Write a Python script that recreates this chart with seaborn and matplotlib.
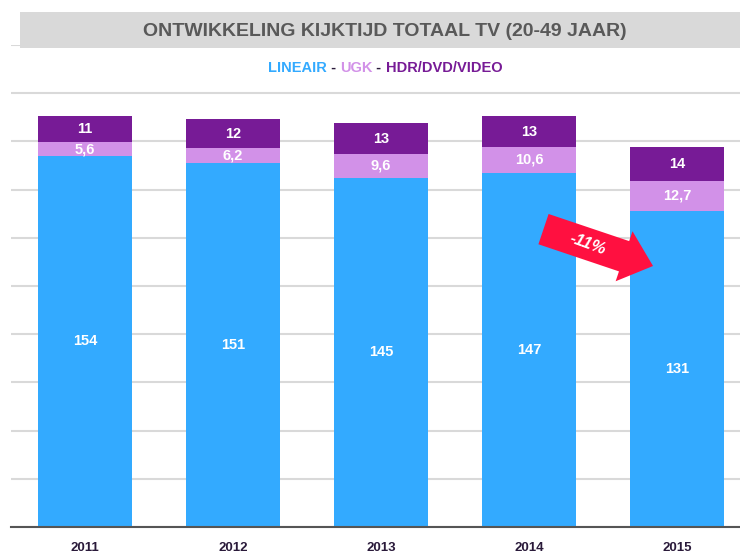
import numpy as np
import pandas as pd
import seaborn as sns
import matplotlib.pyplot as plt
from matplotlib.patches import Rectangle

years = ["2011", "2012", "2013", "2014", "2015"]
lineair = [154, 151, 145, 147, 131]
ugk = [5.6, 6.2, 9.6, 10.6, 12.7]
hdr = [11, 12, 13, 13, 14]

c_lin = "#33aaff"
c_ugk = "#d291e8"
c_hdr = "#771b96"

df = pd.DataFrame({"year": years, "lineair": lineair, "ugk": ugk, "hdr": hdr})
df["lin_ugk"] = df["lineair"] + df["ugk"]
df["total"] = df["lin_ugk"] + df["hdr"]

sns.set_theme(style="white")
plt.rcParams["font.family"] = ["Liberation Sans", "DejaVu Sans"]

fig = plt.figure(figsize=(7.4, 5.53), dpi=100)
ax = fig.add_axes([11 / 740, 1 - 527 / 553, 740 / 740, (527 - 45) / 553])

# stacked bars: draw cumulative totals back to front
w = 0.63
sns.barplot(data=df, x="year", y="total", color=c_hdr, width=w, saturation=1, linewidth=0, ax=ax, zorder=2)
sns.barplot(data=df, x="year", y="lin_ugk", color=c_ugk, width=w, saturation=1, linewidth=0, ax=ax, zorder=3)
sns.barplot(data=df, x="year", y="lineair", color=c_lin, width=w, saturation=1, linewidth=0, ax=ax, zorder=4)

for i, r in df.iterrows():
    lab = dict(ha="center", va="center", color="white", fontsize=10.5, fontweight="bold", zorder=6)
    ax.text(i, r["lineair"] / 2, f"{r['lineair']:.0f}", **lab)
    ax.text(i, r["lineair"] + r["ugk"] / 2, f"{r['ugk']:.1f}".replace(".", ","), **lab)
    ax.text(i, r["lin_ugk"] + r["hdr"] / 2, f"{r['hdr']:.0f}", **lab)

ax.set_ylim(0, 200)
ax.set_xlim(-0.5, 4.5)
ax.set_yticks(np.arange(0, 201, 20))
ax.yaxis.grid(True, color="#d9d9d9", linewidth=1.5, zorder=0)
ax.set_axisbelow(True)
ax.tick_params(axis="y", left=False, labelleft=False)
ax.tick_params(axis="x", bottom=False, pad=5, labelsize=9.5, labelcolor="#2a1a3a")
for t in ax.get_xticklabels():
    t.set_fontweight("bold")
ax.set_xlabel(None)
ax.set_ylabel(None)
for s in ["top", "right", "left"]:
    ax.spines[s].set_visible(False)
ax.spines["bottom"].set_color("#555555")
ax.spines["bottom"].set_linewidth(1.5)
ax.spines["bottom"].set_zorder(5)

# red arrow with -11%
ax.annotate(
    "", xy=(3.838, 108.3), xytext=(3.098, 123.6),
    arrowprops=dict(arrowstyle="simple,head_length=2.2,head_width=3.8,tail_width=2.3",
                    mutation_scale=10, color="#ff1040", lw=0, shrinkA=0, shrinkB=0),
    zorder=7,
)
ax.text(3.40, 117.2, "-11%", rotation=-20, ha="center", va="center", color="white",
        fontsize=12, fontweight="bold", style="italic", zorder=8)

# title band
fig.patches.append(Rectangle((20 / 740, 1 - 48 / 553), 1, 36 / 553, transform=fig.transFigure,
                             facecolor="#d9d9d9", edgecolor="none", zorder=5))
fig.text(385 / 740, 1 - 31 / 553, "ONTWIKKELING KIJKTIJD TOTAAL TV (20-49 JAAR)", ha="center",
         va="center", fontsize=14, fontweight="bold", color="#595959", zorder=6)

# coloured legend line
parts = [("LINEAIR", c_lin), (" - ", "#2a1a3a"), ("UGK", c_ugk), (" - ", "#2a1a3a"), ("HDR/DVD/VIDEO", c_hdr)]
fig.canvas.draw()
r = fig.canvas.get_renderer()
texts = []
for s, c in parts:
    texts.append(fig.text(0, 1 - 68 / 553, s, color=c, fontsize=10.5, fontweight="bold", va="center"))
widths = [t.get_window_extent(r).width for t in texts]
x = 385 - sum(widths) / 2
for t, wd in zip(texts, widths):
    t.set_x(x / 740)
    x += wd

fig.savefig("out.png", dpi=100)
